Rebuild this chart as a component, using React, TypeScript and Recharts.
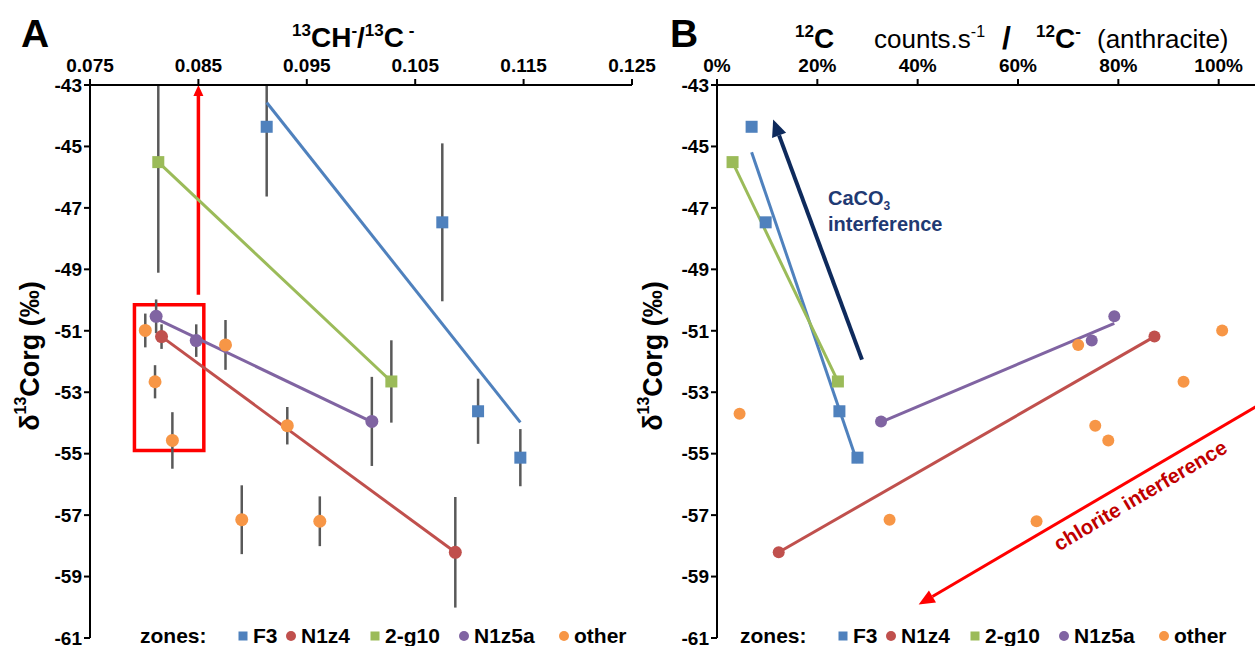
import React from "react";
import {
  ComposedChart,
  Scatter,
  XAxis,
  YAxis,
  ErrorBar,
  ReferenceLine,
  ReferenceArea,
} from "recharts";

// axes
const RATIO_TICKS = [0.075, 0.085, 0.095, 0.105, 0.115, 0.125];
const COUNT_TICKS = [0, 0.2, 0.4, 0.6, 0.8, 1.0];
const D13C_TICKS = [-61, -59, -57, -55, -53, -51, -49, -47, -45, -43];

// zone F3
const F3_D13C = [-44.36, -47.47, -53.62, -55.13];
const F3_ERR = [2.27, 2.57, 1.06, 0.93];
const F3_RATIO = [0.0913, 0.1075, 0.1108, 0.1147];
const F3_COUNTS = [0.069, 0.097, 0.244, 0.28];

// zone N1z4
const N1Z4_D13C = [-51.19, -58.21];
const N1Z4_ERR = [0.4, 1.8];
const N1Z4_RATIO = [0.0816, 0.1087];
const N1Z4_COUNTS = [0.872, 0.123];

// zone 2-g10
const G10_D13C = [-45.51, -52.65];
const G10_ERR = [3.6, 1.34];
const G10_RATIO = [0.0813, 0.1028];
const G10_COUNTS = [0.031, 0.241];

// zone N1z5a
const N1Z5A_D13C = [-50.53, -51.32, -53.95];
const N1Z5A_ERR = [0.55, 0.53, 1.45];
const N1Z5A_RATIO = [0.0811, 0.0848, 0.101];
const N1Z5A_COUNTS = [0.792, 0.747, 0.327];

// other zones (last one has no CH/C ratio)
const OTHER_D13C = [-50.99, -52.66, -54.57, -51.46, -54.09, -57.15, -57.2, -53.7];
const OTHER_ERR = [0.55, 0.54, 0.92, 0.81, 0.61, 1.12, 0.81, 0];
const OTHER_RATIO = [0.0801, 0.081, 0.0826, 0.0875, 0.0932, 0.089, 0.0962, null];
const OTHER_COUNTS = [1.007, 0.93, 0.78, 0.72, 0.754, 0.344, 0.637, 0.045];

type Kind = "square" | "circle";
interface Zone {
  name: string;
  color: string;
  kind: Kind;
  d13c: number[];
  err: number[];
  ratio: (number | null)[];
  counts: number[];
  trend: boolean;
}

const ZONES: Zone[] = [
  { name: "F3", color: "#4F81BD", kind: "square", d13c: F3_D13C, err: F3_ERR, ratio: F3_RATIO, counts: F3_COUNTS, trend: true },
  { name: "N1z4", color: "#C0504D", kind: "circle", d13c: N1Z4_D13C, err: N1Z4_ERR, ratio: N1Z4_RATIO, counts: N1Z4_COUNTS, trend: true },
  { name: "2-g10", color: "#9BBB59", kind: "square", d13c: G10_D13C, err: G10_ERR, ratio: G10_RATIO, counts: G10_COUNTS, trend: true },
  { name: "N1z5a", color: "#8064A2", kind: "circle", d13c: N1Z5A_D13C, err: N1Z5A_ERR, ratio: N1Z5A_RATIO, counts: N1Z5A_COUNTS, trend: true },
  { name: "other", color: "#F79646", kind: "circle", d13c: OTHER_D13C, err: OTHER_ERR, ratio: OTHER_RATIO, counts: OTHER_COUNTS, trend: false },
];

// legend marker offsets from the "zones:" word
const LEGEND_OFFSETS = [103, 151, 235, 324, 424];

const FONT = "'Liberation Sans', Arial, sans-serif";

type Pt = { x: number; y: number; err?: number };

function rows(xs: (number | null)[], z: Zone): Pt[] {
  const out: Pt[] = [];
  xs.forEach((x, i) => {
    if (x != null) out.push({ x, y: z.d13c[i], err: z.err[i] });
  });
  return out;
}

// least squares line over the x range of the points
function fitLine(pts: Pt[]): Pt[] {
  const n = pts.length;
  const mx = pts.reduce((s, p) => s + p.x, 0) / n;
  const my = pts.reduce((s, p) => s + p.y, 0) / n;
  let sxx = 0;
  let sxy = 0;
  pts.forEach((p) => {
    sxx += (p.x - mx) * (p.x - mx);
    sxy += (p.x - mx) * (p.y - my);
  });
  const slope = sxy / sxx;
  const xs = pts.map((p) => p.x);
  const x0 = Math.min(...xs);
  const x1 = Math.max(...xs);
  return [
    { x: x0, y: my + slope * (x0 - mx) },
    { x: x1, y: my + slope * (x1 - mx) },
  ];
}

const marker = (kind: Kind, color: string, size: number) => (p: any) =>
  kind === "square" ? (
    <rect x={p.cx - size / 2} y={p.cy - size / 2} width={size} height={size} fill={color} />
  ) : (
    <circle cx={p.cx} cy={p.cy} r={size / 2} fill={color} />
  );

const arrow = (color: string, lw: number, head: number, hw: number) => (p: any) => {
  const { x1, y1, x2, y2 } = p;
  const a = Math.atan2(y2 - y1, x2 - x1);
  const bx = x2 - head * Math.cos(a);
  const by = y2 - head * Math.sin(a);
  const nx = (-Math.sin(a) * hw) / 2;
  const ny = (Math.cos(a) * hw) / 2;
  return (
    <g>
      <line x1={x1} y1={y1} x2={bx} y2={by} stroke={color} strokeWidth={lw} />
      <polygon points={`${x2},${y2} ${bx + nx},${by + ny} ${bx - nx},${by - ny}`} fill={color} />
    </g>
  );
};

const tickStyle = { fontSize: 19, fontWeight: 700, fill: "#000", fontFamily: FONT };
const xTickStyle = { ...tickStyle, dy: -5 };
const axisLine = { stroke: "#000", strokeWidth: 2 };

function Legend({ left }: { left: number }) {
  return (
    <g fontFamily={FONT} fontWeight={700} fontSize={21} fill="#000">
      <text x={left} y={643}>zones:</text>
      {ZONES.map((z, i) => {
        const cx = left + LEGEND_OFFSETS[i];
        return (
          <g key={z.name}>
            {z.kind === "square" ? (
              <rect x={cx - 4.5} y={631.5} width={9} height={9} fill={z.color} />
            ) : (
              <circle cx={cx} cy={636} r={5} fill={z.color} />
            )}
            <text x={cx + 10} y={643}>{z.name}</text>
          </g>
        );
      })}
    </g>
  );
}

function YLabel({ cx }: { cx: number }) {
  return (
    <text
      transform={`translate(${cx},356) rotate(-90)`}
      textAnchor="middle"
      dominantBaseline="central"
      fontFamily={FONT}
      fontWeight={700}
      fontSize={27}
      fill="#000"
    >
      δ<tspan fontSize={16} dy={-10}>13</tspan>
      <tspan dy={10}>Corg (‰)</tspan>
    </text>
  );
}

export default function App() {
  const panelA = ZONES.map((z) => ({ z, pts: rows(z.ratio, z) }));
  const panelB = ZONES.map((z) => ({ z, pts: rows(z.counts, z) }));

  return (
    <div style={{ position: "absolute", left: 0, top: 0, width: 1255, height: 646, overflow: "hidden", background: "#fff" }}>
      <style>{`#panelA .recharts-errorBars, #panelA .recharts-errorBar { clip-path: url(#clipA); }`}</style>
      <svg width={0} height={0} style={{ position: "absolute" }}>
        <defs>
          <clipPath id="clipA" clipPathUnits="userSpaceOnUse">
            <rect x={90} y={85} width={542} height={553} />
          </clipPath>
        </defs>
      </svg>

      {/* panel A */}
      <div id="panelA" style={{ position: "absolute", left: 0, top: 0 }}>
        <ComposedChart width={680} height={646} margin={{ top: 55, right: 48, bottom: 8, left: 0 }}>
          <XAxis
            type="number"
            dataKey="x"
            orientation="top"
            domain={[0.075, 0.125]}
            ticks={RATIO_TICKS}
            interval={0}
            allowDataOverflow
            height={30}
            axisLine={axisLine}
            tickLine={axisLine}
            tickSize={6}
            tick={xTickStyle}
            tickFormatter={(v: number) => v.toFixed(3)}
          />
          <YAxis
            type="number"
            dataKey="y"
            domain={[-61, -43]}
            ticks={D13C_TICKS}
            interval={0}
            allowDataOverflow
            width={90}
            axisLine={axisLine}
            tickLine={axisLine}
            tickSize={6}
            tick={tickStyle}
          />
          {panelA
            .filter(({ z }) => z.trend)
            .map(({ z, pts }) => (
              <Scatter
                key={"tA" + z.name}
                data={fitLine(pts)}
                line={{ stroke: z.color, strokeWidth: 3 }}
                shape={() => <g />}
                isAnimationActive={false}
              />
            ))}
          <ReferenceArea
            x1={0.0791}
            x2={0.0855}
            y1={-54.9}
            y2={-50.15}
            fill="none"
            fillOpacity={0}
            stroke="#FF0000"
            strokeWidth={3.5}
            ifOverflow="visible"
          />
          <ReferenceLine
            segment={[
              { x: 0.085, y: -49.83 },
              { x: 0.085, y: -43 },
            ]}
            shape={arrow("#FF0000", 3.5, 11, 10)}
            ifOverflow="visible"
          />
          {panelA.map(({ z, pts }) => (
            <Scatter key={"A" + z.name} data={pts} shape={marker(z.kind, z.color, z.kind === "square" ? 12 : 13)} isAnimationActive={false}>
              <ErrorBar dataKey="err" direction="y" width={0} stroke="#595959" strokeWidth={2.5} />
            </Scatter>
          ))}
        </ComposedChart>
      </div>

      {/* panel B */}
      <div style={{ position: "absolute", left: 627, top: 0 }}>
        <ComposedChart width={710} height={646} margin={{ top: 55, right: 18, bottom: 8, left: 0 }}>
          <XAxis
            type="number"
            dataKey="x"
            orientation="top"
            domain={[0, 1.2]}
            ticks={COUNT_TICKS}
            interval={0}
            allowDataOverflow
            height={30}
            axisLine={axisLine}
            tickLine={axisLine}
            tickSize={6}
            tick={xTickStyle}
            tickFormatter={(v: number) => Math.round(v * 100) + "%"}
          />
          <YAxis
            type="number"
            dataKey="y"
            domain={[-61, -43]}
            ticks={D13C_TICKS}
            interval={0}
            allowDataOverflow
            width={90}
            axisLine={axisLine}
            tickLine={axisLine}
            tickSize={6}
            tick={tickStyle}
          />
          {panelB
            .filter(({ z }) => z.trend)
            .map(({ z, pts }) => (
              <Scatter
                key={"tB" + z.name}
                data={fitLine(pts)}
                line={{ stroke: z.color, strokeWidth: 3 }}
                shape={() => <g />}
                isAnimationActive={false}
              />
            ))}
          <ReferenceLine
            segment={[
              { x: 0.289, y: -51.94 },
              { x: 0.112, y: -44.12 },
            ]}
            shape={arrow("#0E2A5C", 4, 17, 15)}
            ifOverflow="visible"
          />
          <ReferenceLine
            segment={[
              { x: 1.15, y: -52.75 },
              { x: 0.402, y: -59.91 },
            ]}
            shape={arrow("#FF0000", 3, 16, 14)}
            ifOverflow="visible"
          />
          {panelB.map(({ z, pts }) => (
            <Scatter key={"B" + z.name} data={pts} shape={marker(z.kind, z.color, 12)} isAnimationActive={false} />
          ))}
        </ComposedChart>
      </div>

      {/* titles, labels, annotations and legends */}
      <svg width={1255} height={646} style={{ position: "absolute", left: 0, top: 0, pointerEvents: "none" }}>
        <g fontFamily={FONT} fill="#000">
          <text x={21} y={47} fontSize={39} fontWeight={900}>A</text>
          <text x={670} y={47} fontSize={39} fontWeight={900}>B</text>

          <text x={292} y={47} fontSize={28} fontWeight={700}>
            <tspan fontSize={17} dy={-11}>13</tspan>
            <tspan dy={11}>CH</tspan>
            <tspan fontSize={17} dy={-11}>-</tspan>
            <tspan dy={11}>/</tspan>
            <tspan fontSize={17} dy={-11}>13</tspan>
            <tspan dy={11}>C</tspan>
            <tspan fontSize={17} dy={-11}> -</tspan>
          </text>

          <text x={795} y={48} fontSize={28} fontWeight={700}>
            <tspan fontSize={17} dy={-11}>12</tspan>
            <tspan dy={11}>C</tspan>
          </text>
          <text x={874} y={48} fontSize={26}>
            counts.s<tspan fontSize={16} dy={-11}>-1</tspan>
          </text>
          <text x={1002} y={49} fontSize={32} fontWeight={700}>/</text>
          <text x={1036} y={48} fontSize={28} fontWeight={700}>
            <tspan fontSize={17} dy={-11}>12</tspan>
            <tspan dy={11}>C</tspan>
            <tspan fontSize={17} dy={-11}>-</tspan>
          </text>
          <text x={1097} y={48} fontSize={26}>(anthracite)</text>

          <text x={828} y={205} fontSize={20} fontWeight={700} fill="#1F3A73">
            CaCO<tspan fontSize={12} dy={5}>3</tspan>
          </text>
          <text x={828} y={231} fontSize={20} fontWeight={700} fill="#1F3A73">interference</text>

          <text
            transform="translate(1140,495) rotate(-30.5)"
            textAnchor="middle"
            dominantBaseline="central"
            fontSize={20.5}
            fontWeight={700}
            fill="#C00000"
          >
            chlorite interference
          </text>

          <YLabel cx={30} />
          <YLabel cx={653} />
        </g>
        <Legend left={140} />
        <Legend left={740} />
      </svg>
    </div>
  );
}
